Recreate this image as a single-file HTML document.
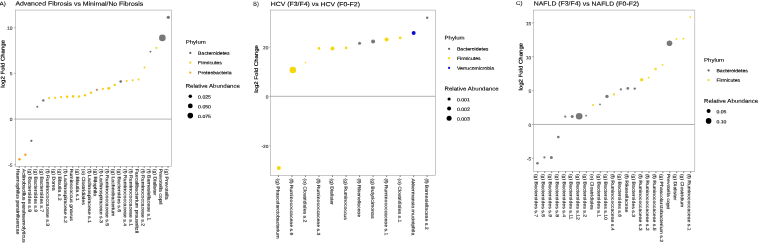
<!DOCTYPE html>
<html lang="en"><head><meta charset="utf-8"><title>Figure</title>
<style>html,body{margin:0;padding:0;background:#fff}svg{display:block}text{font-family:"Liberation Sans", Arial, sans-serif}</style>
</head><body>
<svg width="758" height="243" viewBox="0 0 758 243" font-family='"Liberation Sans", Arial, sans-serif'>
<rect width="758" height="243" fill="#fff"/>
<text transform="translate(-0.40,5.50) rotate(0.03) scale(1.15,1)" font-size="5.478" fill="#000" stroke="#000" stroke-width="0.08">A)</text>
<text transform="translate(15.40,5.60) rotate(0.03) scale(1.15,1)" font-size="6.000" fill="#000" stroke="#000" stroke-width="0.1">Advanced Fibrosis vs Minimal/No Fibrosis</text>
<line x1="15.6" x2="171.6" y1="119.05" y2="119.05" stroke="#c6c6c6" stroke-width="1.3"/>
<rect x="15.6" y="10.1" width="156.00" height="156.20" fill="none" stroke="#a4a4a4" stroke-width="0.6"/>
<line x1="14.0" x2="15.6" y1="27.75" y2="27.75" stroke="#707070" stroke-width="0.5"/>
<text transform="translate(12.50,29.69) rotate(0.03) scale(1.04,1)" font-size="4.712" fill="#333333" stroke="#333333" stroke-width="0.1" text-anchor="end">10</text>
<line x1="14.0" x2="15.6" y1="73.40" y2="73.40" stroke="#707070" stroke-width="0.5"/>
<text transform="translate(12.50,75.34) rotate(0.03) scale(1.04,1)" font-size="4.712" fill="#333333" stroke="#333333" stroke-width="0.1" text-anchor="end">5</text>
<line x1="14.0" x2="15.6" y1="119.05" y2="119.05" stroke="#707070" stroke-width="0.5"/>
<text transform="translate(12.50,120.99) rotate(0.03) scale(1.04,1)" font-size="4.712" fill="#333333" stroke="#333333" stroke-width="0.1" text-anchor="end">0</text>
<line x1="14.0" x2="15.6" y1="164.70" y2="164.70" stroke="#707070" stroke-width="0.5"/>
<text transform="translate(12.50,166.64) rotate(0.03) scale(1.04,1)" font-size="4.712" fill="#333333" stroke="#333333" stroke-width="0.1" text-anchor="end">-5</text>
<text transform="translate(4.60,63.80) rotate(-89.97) scale(1.15,1)" font-size="5.261" fill="#000" stroke="#000" stroke-width="0.14" text-anchor="middle">log2 Fold Change</text>
<line x1="19.17" x2="19.17" y1="166.3" y2="167.9" stroke="#6a6a6a" stroke-width="0.85"/>
<text transform="translate(16.47,168.70) rotate(90.03) scale(1.15,1)" font-size="4.522" fill="#2c2c2c" stroke="#2c2c2c" stroke-width="0.13">Haemophilus parainfluenzae</text>
<line x1="25.13" x2="25.13" y1="166.3" y2="167.9" stroke="#6a6a6a" stroke-width="0.85"/>
<text transform="translate(22.43,168.70) rotate(90.03) scale(1.15,1)" font-size="4.522" fill="#2c2c2c" stroke="#2c2c2c" stroke-width="0.13">Actinobacillus parahaemolyticus</text>
<line x1="31.08" x2="31.08" y1="166.3" y2="167.9" stroke="#6a6a6a" stroke-width="0.85"/>
<text transform="translate(28.38,168.70) rotate(90.03) scale(1.15,1)" font-size="4.522" fill="#2c2c2c" stroke="#2c2c2c" stroke-width="0.13">(g) Bacteroides s.8</text>
<line x1="37.04" x2="37.04" y1="166.3" y2="167.9" stroke="#6a6a6a" stroke-width="0.85"/>
<text transform="translate(34.34,168.70) rotate(90.03) scale(1.15,1)" font-size="4.522" fill="#2c2c2c" stroke="#2c2c2c" stroke-width="0.13">(g) Bacteroides s.9</text>
<line x1="42.99" x2="42.99" y1="166.3" y2="167.9" stroke="#6a6a6a" stroke-width="0.85"/>
<text transform="translate(40.29,168.70) rotate(90.03) scale(1.15,1)" font-size="4.522" fill="#2c2c2c" stroke="#2c2c2c" stroke-width="0.13">(g) Bacteroides s.7</text>
<line x1="48.94" x2="48.94" y1="166.3" y2="167.9" stroke="#6a6a6a" stroke-width="0.85"/>
<text transform="translate(46.24,168.70) rotate(90.03) scale(1.15,1)" font-size="4.522" fill="#2c2c2c" stroke="#2c2c2c" stroke-width="0.13">(f) Ruminococcaceae s.3</text>
<line x1="54.90" x2="54.90" y1="166.3" y2="167.9" stroke="#6a6a6a" stroke-width="0.85"/>
<text transform="translate(52.20,168.70) rotate(90.03) scale(1.15,1)" font-size="4.522" fill="#2c2c2c" stroke="#2c2c2c" stroke-width="0.13">(g) Dorea</text>
<line x1="60.85" x2="60.85" y1="166.3" y2="167.9" stroke="#6a6a6a" stroke-width="0.85"/>
<text transform="translate(58.15,168.70) rotate(90.03) scale(1.15,1)" font-size="4.522" fill="#2c2c2c" stroke="#2c2c2c" stroke-width="0.13">(g) Blautia s.2</text>
<line x1="66.81" x2="66.81" y1="166.3" y2="167.9" stroke="#6a6a6a" stroke-width="0.85"/>
<text transform="translate(64.11,168.70) rotate(90.03) scale(1.15,1)" font-size="4.522" fill="#2c2c2c" stroke="#2c2c2c" stroke-width="0.13">(f) Lachnospiraceae s.2</text>
<line x1="72.76" x2="72.76" y1="166.3" y2="167.9" stroke="#6a6a6a" stroke-width="0.85"/>
<text transform="translate(70.06,168.70) rotate(90.03) scale(1.15,1)" font-size="4.522" fill="#2c2c2c" stroke="#2c2c2c" stroke-width="0.13">Ruminococcus gnavus</text>
<line x1="78.71" x2="78.71" y1="166.3" y2="167.9" stroke="#6a6a6a" stroke-width="0.85"/>
<text transform="translate(76.01,168.70) rotate(90.03) scale(1.15,1)" font-size="4.522" fill="#2c2c2c" stroke="#2c2c2c" stroke-width="0.13">(g) Blautia s.1</text>
<line x1="84.67" x2="84.67" y1="166.3" y2="167.9" stroke="#6a6a6a" stroke-width="0.85"/>
<text transform="translate(81.97,168.70) rotate(90.03) scale(1.15,1)" font-size="4.522" fill="#2c2c2c" stroke="#2c2c2c" stroke-width="0.13">(o) Clostridiales</text>
<line x1="90.62" x2="90.62" y1="166.3" y2="167.9" stroke="#6a6a6a" stroke-width="0.85"/>
<text transform="translate(87.92,168.70) rotate(90.03) scale(1.15,1)" font-size="4.522" fill="#2c2c2c" stroke="#2c2c2c" stroke-width="0.13">(f) Lachnospiraceae s.1</text>
<line x1="96.58" x2="96.58" y1="166.3" y2="167.9" stroke="#6a6a6a" stroke-width="0.85"/>
<text transform="translate(93.88,168.70) rotate(90.03) scale(1.15,1)" font-size="4.522" fill="#2c2c2c" stroke="#2c2c2c" stroke-width="0.13">(g) Bilophila</text>
<line x1="102.53" x2="102.53" y1="166.3" y2="167.9" stroke="#6a6a6a" stroke-width="0.85"/>
<text transform="translate(99.83,168.70) rotate(90.03) scale(1.15,1)" font-size="4.522" fill="#2c2c2c" stroke="#2c2c2c" stroke-width="0.13">(f) Lachnospiraceae s.3</text>
<line x1="108.49" x2="108.49" y1="166.3" y2="167.9" stroke="#6a6a6a" stroke-width="0.85"/>
<text transform="translate(105.79,168.70) rotate(90.03) scale(1.15,1)" font-size="4.522" fill="#2c2c2c" stroke="#2c2c2c" stroke-width="0.13">(f) Ruminococcaceae s.5</text>
<line x1="114.44" x2="114.44" y1="166.3" y2="167.9" stroke="#6a6a6a" stroke-width="0.85"/>
<text transform="translate(111.74,168.70) rotate(90.03) scale(1.15,1)" font-size="4.522" fill="#2c2c2c" stroke="#2c2c2c" stroke-width="0.13">(g) Lachnobacterium</text>
<line x1="120.39" x2="120.39" y1="166.3" y2="167.9" stroke="#6a6a6a" stroke-width="0.85"/>
<text transform="translate(117.69,168.70) rotate(90.03) scale(1.15,1)" font-size="4.522" fill="#2c2c2c" stroke="#2c2c2c" stroke-width="0.13">(g) Bacteroides s.6</text>
<line x1="126.35" x2="126.35" y1="166.3" y2="167.9" stroke="#6a6a6a" stroke-width="0.85"/>
<text transform="translate(123.65,168.70) rotate(90.03) scale(1.15,1)" font-size="4.522" fill="#2c2c2c" stroke="#2c2c2c" stroke-width="0.13">(f) Ruminococcaceae s.4</text>
<line x1="132.30" x2="132.30" y1="166.3" y2="167.9" stroke="#6a6a6a" stroke-width="0.85"/>
<text transform="translate(129.60,168.70) rotate(90.03) scale(1.15,1)" font-size="4.522" fill="#2c2c2c" stroke="#2c2c2c" stroke-width="0.13">(f) Ruminococcaceae s.1</text>
<line x1="138.26" x2="138.26" y1="166.3" y2="167.9" stroke="#6a6a6a" stroke-width="0.85"/>
<text transform="translate(135.56,168.70) rotate(90.03) scale(1.15,1)" font-size="4.522" fill="#2c2c2c" stroke="#2c2c2c" stroke-width="0.13">Faecalibacterium prausnitzii</text>
<line x1="144.21" x2="144.21" y1="166.3" y2="167.9" stroke="#6a6a6a" stroke-width="0.85"/>
<text transform="translate(141.51,168.70) rotate(90.03) scale(1.15,1)" font-size="4.522" fill="#2c2c2c" stroke="#2c2c2c" stroke-width="0.13">(f) Ruminococcaceae s.2</text>
<line x1="150.16" x2="150.16" y1="166.3" y2="167.9" stroke="#6a6a6a" stroke-width="0.85"/>
<text transform="translate(147.46,168.70) rotate(90.03) scale(1.15,1)" font-size="4.522" fill="#2c2c2c" stroke="#2c2c2c" stroke-width="0.13">(f) Barnesiellaceae s.1</text>
<line x1="156.12" x2="156.12" y1="166.3" y2="167.9" stroke="#6a6a6a" stroke-width="0.85"/>
<text transform="translate(153.42,168.70) rotate(90.03) scale(1.15,1)" font-size="4.522" fill="#2c2c2c" stroke="#2c2c2c" stroke-width="0.13">(g) Dialister</text>
<line x1="162.07" x2="162.07" y1="166.3" y2="167.9" stroke="#6a6a6a" stroke-width="0.85"/>
<text transform="translate(159.37,168.70) rotate(90.03) scale(1.15,1)" font-size="4.522" fill="#2c2c2c" stroke="#2c2c2c" stroke-width="0.13">Prevotella copri</text>
<line x1="168.03" x2="168.03" y1="166.3" y2="167.9" stroke="#6a6a6a" stroke-width="0.85"/>
<text transform="translate(165.33,168.70) rotate(90.03) scale(1.15,1)" font-size="4.522" fill="#2c2c2c" stroke="#2c2c2c" stroke-width="0.13">(g) Prevotella</text>
<circle cx="19.47" cy="159.3" r="1.3" fill="#F5A32A"/>
<circle cx="25.43" cy="154.8" r="1.2" fill="#F5A32A"/>
<circle cx="31.38" cy="140.8" r="1.15" fill="#6e6e6e"/>
<circle cx="37.34" cy="106.7" r="1.0" fill="#6e6e6e"/>
<circle cx="43.29" cy="100.4" r="1.2" fill="#6e6e6e"/>
<circle cx="49.24" cy="98.2" r="1.1" fill="#F4CF1C"/>
<circle cx="55.20" cy="97.8" r="1.1" fill="#F4CF1C"/>
<circle cx="61.15" cy="97.2" r="1.1" fill="#F4CF1C"/>
<circle cx="67.11" cy="96.7" r="1.3" fill="#F4CF1C"/>
<circle cx="73.06" cy="96.4" r="1.3" fill="#F4CF1C"/>
<circle cx="79.01" cy="96.4" r="1.2" fill="#F4CF1C"/>
<circle cx="84.97" cy="95.2" r="1.2" fill="#F4CF1C"/>
<circle cx="90.92" cy="92.7" r="1.3" fill="#F4CF1C"/>
<circle cx="96.88" cy="89.8" r="1.1" fill="#BE8858"/>
<circle cx="102.83" cy="88.9" r="1.1" fill="#F4CF1C"/>
<circle cx="108.79" cy="88.3" r="1.5" fill="#F4CF1C"/>
<circle cx="114.74" cy="84.9" r="1.2" fill="#F4CF1C"/>
<circle cx="120.69" cy="81.5" r="1.3" fill="#6e6e6e"/>
<circle cx="126.65" cy="81.0" r="1.0" fill="#F4CF1C"/>
<circle cx="132.60" cy="80.3" r="1.0" fill="#F4CF1C"/>
<circle cx="138.56" cy="79.6" r="1.0" fill="#F4CF1C"/>
<circle cx="144.51" cy="67.5" r="1.0" fill="#F4CF1C"/>
<circle cx="150.46" cy="51.7" r="0.9" fill="#6e6e6e"/>
<circle cx="156.42" cy="47.9" r="1.1" fill="#ECE436"/>
<circle cx="162.37" cy="37.9" r="3.3" fill="#787878"/>
<circle cx="168.33" cy="17.3" r="1.65" fill="#787878"/>
<text transform="translate(185.70,43.70) rotate(0.03) scale(1.15,1)" font-size="5.261" fill="#000" stroke="#000" stroke-width="0.09">Phylum</text>
<circle cx="190.29999999999998" cy="52.9" r="1.1" fill="#606068"/>
<text transform="translate(198.10,54.65) rotate(0.03) scale(1.15,1)" font-size="4.478" fill="#000" stroke="#000" stroke-width="0.12">Bacteroidetes</text>
<circle cx="190.29999999999998" cy="62.6" r="1.1" fill="#F4CF1C"/>
<text transform="translate(198.10,64.35) rotate(0.03) scale(1.15,1)" font-size="4.478" fill="#000" stroke="#000" stroke-width="0.12">Firmicutes</text>
<circle cx="190.29999999999998" cy="72.6" r="1.1" fill="#F5A32A"/>
<text transform="translate(198.10,74.35) rotate(0.03) scale(1.15,1)" font-size="4.478" fill="#000" stroke="#000" stroke-width="0.12">Proteobacteria</text>
<text transform="translate(185.70,87.80) rotate(0.03) scale(1.15,1)" font-size="5.304" fill="#000" stroke="#000" stroke-width="0.09">Relative Abundance</text>
<circle cx="190.29999999999998" cy="96.2" r="1.75" fill="#000"/>
<text transform="translate(198.10,98.50) rotate(0.03) scale(1.15,1)" font-size="4.478" fill="#000" stroke="#000" stroke-width="0.1">0.025</text>
<circle cx="190.29999999999998" cy="105.9" r="2.4" fill="#000"/>
<text transform="translate(198.10,108.20) rotate(0.03) scale(1.15,1)" font-size="4.478" fill="#000" stroke="#000" stroke-width="0.1">0.050</text>
<circle cx="190.29999999999998" cy="115.6" r="2.8" fill="#000"/>
<text transform="translate(198.10,117.90) rotate(0.03) scale(1.15,1)" font-size="4.478" fill="#000" stroke="#000" stroke-width="0.1">0.075</text>
<text transform="translate(253.30,6.10) rotate(0.03) scale(0.85,1)" font-size="6.353" fill="#000" stroke="#000" stroke-width="0.03">B)</text>
<text transform="translate(270.80,6.10) rotate(0.03) scale(1.15,1)" font-size="6.000" fill="#000" stroke="#000" stroke-width="0.1">HCV (F3/F4) vs HCV (F0-F2)</text>
<line x1="270.3" x2="435.3" y1="96.3" y2="96.3" stroke="#9c9c9c" stroke-width="0.8"/>
<rect x="270.3" y="10.1" width="165.00" height="165.30" fill="none" stroke="#a4a4a4" stroke-width="0.6"/>
<line x1="269.3" x2="270.3" y1="47.00" y2="47.00" stroke="#707070" stroke-width="0.5"/>
<text transform="translate(268.40,49.30) rotate(0.03) scale(1.04,1)" font-size="4.615" fill="#333333" stroke="#333333" stroke-width="0.1" text-anchor="end">20</text>
<line x1="269.3" x2="270.3" y1="96.30" y2="96.30" stroke="#707070" stroke-width="0.5"/>
<text transform="translate(268.40,98.60) rotate(0.03) scale(1.04,1)" font-size="4.615" fill="#333333" stroke="#333333" stroke-width="0.1" text-anchor="end">0</text>
<line x1="269.3" x2="270.3" y1="145.60" y2="145.60" stroke="#707070" stroke-width="0.5"/>
<text transform="translate(268.40,147.90) rotate(0.03) scale(1.04,1)" font-size="4.615" fill="#333333" stroke="#333333" stroke-width="0.1" text-anchor="end">-20</text>
<text transform="translate(257.90,68.90) rotate(-89.97) scale(1.15,1)" font-size="5.261" fill="#000" stroke="#000" stroke-width="0.14" text-anchor="middle">log2 Fold Change</text>
<line x1="278.41" x2="278.41" y1="175.4" y2="177.0" stroke="#6a6a6a" stroke-width="0.85"/>
<text transform="translate(276.51,178.50) rotate(90.03) scale(1.15,1)" font-size="4.478" fill="#2c2c2c" stroke="#2c2c2c" stroke-width="0.13">(g) Phascolarctobacterium</text>
<line x1="291.94" x2="291.94" y1="175.4" y2="177.0" stroke="#6a6a6a" stroke-width="0.85"/>
<text transform="translate(290.04,178.50) rotate(90.03) scale(1.15,1)" font-size="4.478" fill="#2c2c2c" stroke="#2c2c2c" stroke-width="0.13">(f) Ruminococcaceae s.6</text>
<line x1="305.46" x2="305.46" y1="175.4" y2="177.0" stroke="#6a6a6a" stroke-width="0.85"/>
<text transform="translate(303.56,178.50) rotate(90.03) scale(1.15,1)" font-size="4.478" fill="#2c2c2c" stroke="#2c2c2c" stroke-width="0.13">(o) Clostridiales s.2</text>
<line x1="318.99" x2="318.99" y1="175.4" y2="177.0" stroke="#6a6a6a" stroke-width="0.85"/>
<text transform="translate(317.09,178.50) rotate(90.03) scale(1.15,1)" font-size="4.478" fill="#2c2c2c" stroke="#2c2c2c" stroke-width="0.13">(f) Ruminococcaceae s.3</text>
<line x1="332.51" x2="332.51" y1="175.4" y2="177.0" stroke="#6a6a6a" stroke-width="0.85"/>
<text transform="translate(330.61,178.50) rotate(90.03) scale(1.15,1)" font-size="4.478" fill="#2c2c2c" stroke="#2c2c2c" stroke-width="0.13">(g) Dialister</text>
<line x1="346.04" x2="346.04" y1="175.4" y2="177.0" stroke="#6a6a6a" stroke-width="0.85"/>
<text transform="translate(344.14,178.50) rotate(90.03) scale(1.15,1)" font-size="4.478" fill="#2c2c2c" stroke="#2c2c2c" stroke-width="0.13">(g) Ruminococcus</text>
<line x1="359.56" x2="359.56" y1="175.4" y2="177.0" stroke="#6a6a6a" stroke-width="0.85"/>
<text transform="translate(357.66,178.50) rotate(90.03) scale(1.15,1)" font-size="4.478" fill="#2c2c2c" stroke="#2c2c2c" stroke-width="0.13">(f) Rikenellaceae</text>
<line x1="373.09" x2="373.09" y1="175.4" y2="177.0" stroke="#6a6a6a" stroke-width="0.85"/>
<text transform="translate(371.19,178.50) rotate(90.03) scale(1.15,1)" font-size="4.478" fill="#2c2c2c" stroke="#2c2c2c" stroke-width="0.13">(g) Butyricimonas</text>
<line x1="386.61" x2="386.61" y1="175.4" y2="177.0" stroke="#6a6a6a" stroke-width="0.85"/>
<text transform="translate(384.71,178.50) rotate(90.03) scale(1.15,1)" font-size="4.478" fill="#2c2c2c" stroke="#2c2c2c" stroke-width="0.13">(f) Ruminococcaceae s.1</text>
<line x1="400.14" x2="400.14" y1="175.4" y2="177.0" stroke="#6a6a6a" stroke-width="0.85"/>
<text transform="translate(398.24,178.50) rotate(90.03) scale(1.15,1)" font-size="4.478" fill="#2c2c2c" stroke="#2c2c2c" stroke-width="0.13">(o) Clostridiales s.1</text>
<line x1="413.66" x2="413.66" y1="175.4" y2="177.0" stroke="#6a6a6a" stroke-width="0.85"/>
<text transform="translate(411.76,178.50) rotate(90.03) scale(1.15,1)" font-size="4.478" fill="#2c2c2c" stroke="#2c2c2c" stroke-width="0.13">Akkermansia muciniphila</text>
<line x1="427.19" x2="427.19" y1="175.4" y2="177.0" stroke="#6a6a6a" stroke-width="0.85"/>
<text transform="translate(425.29,178.50) rotate(90.03) scale(1.15,1)" font-size="4.478" fill="#2c2c2c" stroke="#2c2c2c" stroke-width="0.13">(f) Barnesiellaceae s.2</text>
<circle cx="278.81" cy="167.9" r="2.0" fill="#F6D70E"/>
<circle cx="292.84" cy="70.0" r="3.25" fill="#F6D70E"/>
<circle cx="305.46" cy="62.8" r="0.8" fill="#F6D70E"/>
<circle cx="318.99" cy="48.4" r="1.3" fill="#F6D70E"/>
<circle cx="332.51" cy="48.4" r="2.0" fill="#F6D70E"/>
<circle cx="346.04" cy="47.9" r="1.3" fill="#F6D70E"/>
<circle cx="359.56" cy="43.2" r="1.5" fill="#787878"/>
<circle cx="373.09" cy="41.4" r="2.0" fill="#787878"/>
<circle cx="386.61" cy="39.4" r="2.0" fill="#F6D70E"/>
<circle cx="400.14" cy="37.9" r="1.3" fill="#F6D70E"/>
<circle cx="413.66" cy="32.9" r="2.0" fill="#0A0AD0"/>
<circle cx="427.19" cy="17.8" r="1.2" fill="#787878"/>
<text transform="translate(444.50,39.40) rotate(0.03) scale(1.15,1)" font-size="5.261" fill="#000" stroke="#000" stroke-width="0.09">Phylum</text>
<circle cx="449.1" cy="48.8" r="1.1" fill="#606068"/>
<text transform="translate(456.90,50.55) rotate(0.03) scale(1.15,1)" font-size="4.478" fill="#000" stroke="#000" stroke-width="0.12">Bacteroidetes</text>
<circle cx="449.1" cy="58.2" r="1.1" fill="#F6D70E"/>
<text transform="translate(456.90,59.95) rotate(0.03) scale(1.15,1)" font-size="4.478" fill="#000" stroke="#000" stroke-width="0.12">Firmicutes</text>
<circle cx="449.1" cy="67.9" r="1.1" fill="#0A0AD0"/>
<text transform="translate(456.90,69.65) rotate(0.03) scale(1.15,1)" font-size="4.478" fill="#000" stroke="#000" stroke-width="0.12">Verrucomicrobia</text>
<text transform="translate(444.50,90.40) rotate(0.03) scale(1.15,1)" font-size="5.304" fill="#000" stroke="#000" stroke-width="0.09">Relative Abundance</text>
<circle cx="449.1" cy="99" r="1.6" fill="#000"/>
<text transform="translate(456.90,101.30) rotate(0.03) scale(1.15,1)" font-size="4.478" fill="#000" stroke="#000" stroke-width="0.1">0.001</text>
<circle cx="449.1" cy="108.4" r="2.0" fill="#000"/>
<text transform="translate(456.90,110.70) rotate(0.03) scale(1.15,1)" font-size="4.478" fill="#000" stroke="#000" stroke-width="0.1">0.002</text>
<circle cx="449.1" cy="118.2" r="2.5" fill="#000"/>
<text transform="translate(456.90,120.50) rotate(0.03) scale(1.15,1)" font-size="4.478" fill="#000" stroke="#000" stroke-width="0.1">0.003</text>
<text transform="translate(515.90,5.10) rotate(0.03) scale(1.15,1)" font-size="5.478" fill="#000" stroke="#000" stroke-width="0.04">C)</text>
<text transform="translate(533.80,5.60) rotate(0.03) scale(1.15,1)" font-size="6.000" fill="#000" stroke="#000" stroke-width="0.1">NAFLD (F3/F4) vs NAFLD (F0-F2)</text>
<line x1="533.6" x2="694.8" y1="124.45" y2="124.45" stroke="#9c9c9c" stroke-width="0.8"/>
<rect x="533.6" y="10.1" width="161.20" height="161.30" fill="none" stroke="#a4a4a4" stroke-width="0.6"/>
<line x1="531.8000000000001" x2="533.6" y1="23.05" y2="23.05" stroke="#707070" stroke-width="0.5"/>
<text transform="translate(531.20,25.35) rotate(0.03) scale(1.04,1)" font-size="4.615" fill="#333333" stroke="#333333" stroke-width="0.1" text-anchor="end">15</text>
<line x1="531.8000000000001" x2="533.6" y1="56.85" y2="56.85" stroke="#707070" stroke-width="0.5"/>
<text transform="translate(531.20,59.15) rotate(0.03) scale(1.04,1)" font-size="4.615" fill="#333333" stroke="#333333" stroke-width="0.1" text-anchor="end">10</text>
<line x1="531.8000000000001" x2="533.6" y1="90.65" y2="90.65" stroke="#707070" stroke-width="0.5"/>
<text transform="translate(531.20,92.95) rotate(0.03) scale(1.04,1)" font-size="4.615" fill="#333333" stroke="#333333" stroke-width="0.1" text-anchor="end">5</text>
<line x1="531.8000000000001" x2="533.6" y1="124.45" y2="124.45" stroke="#707070" stroke-width="0.5"/>
<text transform="translate(531.20,126.75) rotate(0.03) scale(1.04,1)" font-size="4.615" fill="#333333" stroke="#333333" stroke-width="0.1" text-anchor="end">0</text>
<line x1="531.8000000000001" x2="533.6" y1="158.25" y2="158.25" stroke="#707070" stroke-width="0.5"/>
<text transform="translate(531.20,160.55) rotate(0.03) scale(1.04,1)" font-size="4.615" fill="#333333" stroke="#333333" stroke-width="0.1" text-anchor="end">-5</text>
<text transform="translate(522.40,66.70) rotate(-89.97) scale(1.15,1)" font-size="5.261" fill="#000" stroke="#000" stroke-width="0.14" text-anchor="middle">log2 Fold Change</text>
<line x1="537.77" x2="537.77" y1="171.4" y2="173.0" stroke="#6a6a6a" stroke-width="0.85"/>
<text transform="translate(534.87,173.90) rotate(90.03) scale(1.15,1)" font-size="4.478" fill="#2c2c2c" stroke="#2c2c2c" stroke-width="0.13">(g) Bacteroides s.7</text>
<line x1="544.72" x2="544.72" y1="171.4" y2="173.0" stroke="#6a6a6a" stroke-width="0.85"/>
<text transform="translate(541.82,173.90) rotate(90.03) scale(1.15,1)" font-size="4.478" fill="#2c2c2c" stroke="#2c2c2c" stroke-width="0.13">(g) Bacteroides s.5</text>
<line x1="551.67" x2="551.67" y1="171.4" y2="173.0" stroke="#6a6a6a" stroke-width="0.85"/>
<text transform="translate(548.77,173.90) rotate(90.03) scale(1.15,1)" font-size="4.478" fill="#2c2c2c" stroke="#2c2c2c" stroke-width="0.13">(g) Bacteroides s.9</text>
<line x1="558.61" x2="558.61" y1="171.4" y2="173.0" stroke="#6a6a6a" stroke-width="0.85"/>
<text transform="translate(555.71,173.90) rotate(90.03) scale(1.15,1)" font-size="4.478" fill="#2c2c2c" stroke="#2c2c2c" stroke-width="0.13">(g) Bacteroides s.8</text>
<line x1="565.56" x2="565.56" y1="171.4" y2="173.0" stroke="#6a6a6a" stroke-width="0.85"/>
<text transform="translate(562.66,173.90) rotate(90.03) scale(1.15,1)" font-size="4.478" fill="#2c2c2c" stroke="#2c2c2c" stroke-width="0.13">(g) Bacteroides s.4</text>
<line x1="572.51" x2="572.51" y1="171.4" y2="173.0" stroke="#6a6a6a" stroke-width="0.85"/>
<text transform="translate(569.61,173.90) rotate(90.03) scale(1.15,1)" font-size="4.478" fill="#2c2c2c" stroke="#2c2c2c" stroke-width="0.13">(g) Bacteroides s.11</text>
<line x1="579.46" x2="579.46" y1="171.4" y2="173.0" stroke="#6a6a6a" stroke-width="0.85"/>
<text transform="translate(576.56,173.90) rotate(90.03) scale(1.15,1)" font-size="4.478" fill="#2c2c2c" stroke="#2c2c2c" stroke-width="0.13">(g) Bacteroides s.12</text>
<line x1="586.41" x2="586.41" y1="171.4" y2="173.0" stroke="#6a6a6a" stroke-width="0.85"/>
<text transform="translate(583.51,173.90) rotate(90.03) scale(1.15,1)" font-size="4.478" fill="#2c2c2c" stroke="#2c2c2c" stroke-width="0.13">(g) Bacteroides s.2</text>
<line x1="593.36" x2="593.36" y1="171.4" y2="173.0" stroke="#6a6a6a" stroke-width="0.85"/>
<text transform="translate(590.46,173.90) rotate(90.03) scale(1.15,1)" font-size="4.478" fill="#2c2c2c" stroke="#2c2c2c" stroke-width="0.13">(o) Clostridiales</text>
<line x1="600.30" x2="600.30" y1="171.4" y2="173.0" stroke="#6a6a6a" stroke-width="0.85"/>
<text transform="translate(597.40,173.90) rotate(90.03) scale(1.15,1)" font-size="4.478" fill="#2c2c2c" stroke="#2c2c2c" stroke-width="0.13">(g) Bacteroides s.1</text>
<line x1="607.25" x2="607.25" y1="171.4" y2="173.0" stroke="#6a6a6a" stroke-width="0.85"/>
<text transform="translate(604.35,173.90) rotate(90.03) scale(1.15,1)" font-size="4.478" fill="#2c2c2c" stroke="#2c2c2c" stroke-width="0.13">(g) Bacteroides s.10</text>
<line x1="614.20" x2="614.20" y1="171.4" y2="173.0" stroke="#6a6a6a" stroke-width="0.85"/>
<text transform="translate(611.30,173.90) rotate(90.03) scale(1.15,1)" font-size="4.478" fill="#2c2c2c" stroke="#2c2c2c" stroke-width="0.13">(f) Ruminococcaceae s.4</text>
<line x1="621.15" x2="621.15" y1="171.4" y2="173.0" stroke="#6a6a6a" stroke-width="0.85"/>
<text transform="translate(618.25,173.90) rotate(90.03) scale(1.15,1)" font-size="4.478" fill="#2c2c2c" stroke="#2c2c2c" stroke-width="0.13">(g) Bacteroides s.6</text>
<line x1="628.10" x2="628.10" y1="171.4" y2="173.0" stroke="#6a6a6a" stroke-width="0.85"/>
<text transform="translate(625.20,173.90) rotate(90.03) scale(1.15,1)" font-size="4.478" fill="#2c2c2c" stroke="#2c2c2c" stroke-width="0.13">(f) Rikenellaceae</text>
<line x1="635.04" x2="635.04" y1="171.4" y2="173.0" stroke="#6a6a6a" stroke-width="0.85"/>
<text transform="translate(632.14,173.90) rotate(90.03) scale(1.15,1)" font-size="4.478" fill="#2c2c2c" stroke="#2c2c2c" stroke-width="0.13">(g) Bacteroides s.3</text>
<line x1="641.99" x2="641.99" y1="171.4" y2="173.0" stroke="#6a6a6a" stroke-width="0.85"/>
<text transform="translate(639.09,173.90) rotate(90.03) scale(1.15,1)" font-size="4.478" fill="#2c2c2c" stroke="#2c2c2c" stroke-width="0.13">(f) Ruminococcaceae s.3</text>
<line x1="648.94" x2="648.94" y1="171.4" y2="173.0" stroke="#6a6a6a" stroke-width="0.85"/>
<text transform="translate(646.04,173.90) rotate(90.03) scale(1.15,1)" font-size="4.478" fill="#2c2c2c" stroke="#2c2c2c" stroke-width="0.13">(f) Ruminococcaceae s.2</text>
<line x1="655.89" x2="655.89" y1="171.4" y2="173.0" stroke="#6a6a6a" stroke-width="0.85"/>
<text transform="translate(652.99,173.90) rotate(90.03) scale(1.15,1)" font-size="4.478" fill="#2c2c2c" stroke="#2c2c2c" stroke-width="0.13">(f) Ruminococcaceae s.5</text>
<line x1="662.84" x2="662.84" y1="171.4" y2="173.0" stroke="#6a6a6a" stroke-width="0.85"/>
<text transform="translate(659.94,173.90) rotate(90.03) scale(1.15,1)" font-size="4.478" fill="#2c2c2c" stroke="#2c2c2c" stroke-width="0.13">(g) Phascolarctobacterium s.2</text>
<line x1="669.79" x2="669.79" y1="171.4" y2="173.0" stroke="#6a6a6a" stroke-width="0.85"/>
<text transform="translate(666.89,173.90) rotate(90.03) scale(1.15,1)" font-size="4.478" fill="#2c2c2c" stroke="#2c2c2c" stroke-width="0.13">Prevotella copri</text>
<line x1="676.73" x2="676.73" y1="171.4" y2="173.0" stroke="#6a6a6a" stroke-width="0.85"/>
<text transform="translate(673.83,173.90) rotate(90.03) scale(1.15,1)" font-size="4.478" fill="#2c2c2c" stroke="#2c2c2c" stroke-width="0.13">(g) Dialister</text>
<line x1="683.68" x2="683.68" y1="171.4" y2="173.0" stroke="#6a6a6a" stroke-width="0.85"/>
<text transform="translate(680.78,173.90) rotate(90.03) scale(1.15,1)" font-size="4.478" fill="#2c2c2c" stroke="#2c2c2c" stroke-width="0.13">(g) Clostridium</text>
<line x1="690.63" x2="690.63" y1="171.4" y2="173.0" stroke="#6a6a6a" stroke-width="0.85"/>
<text transform="translate(687.73,173.90) rotate(90.03) scale(1.15,1)" font-size="4.478" fill="#2c2c2c" stroke="#2c2c2c" stroke-width="0.13">(f) Ruminococcaceae s.1</text>
<circle cx="537.47" cy="163.2" r="1.32" fill="#787878"/>
<circle cx="544.42" cy="157.4" r="1.12" fill="#787878"/>
<circle cx="551.37" cy="157.4" r="1.5" fill="#787878"/>
<circle cx="558.31" cy="137.1" r="1.32" fill="#787878"/>
<circle cx="565.26" cy="116.6" r="1.12" fill="#787878"/>
<circle cx="572.21" cy="116.5" r="1.5" fill="#787878"/>
<circle cx="579.16" cy="116.2" r="3.3" fill="#787878"/>
<circle cx="586.11" cy="115.7" r="0.92" fill="#787878"/>
<circle cx="593.06" cy="104.9" r="1.02" fill="#EEDA1E"/>
<circle cx="600.00" cy="104.4" r="0.92" fill="#787878"/>
<circle cx="606.95" cy="96.4" r="1.7" fill="#787878"/>
<circle cx="613.90" cy="94.4" r="1.12" fill="#EEDA1E"/>
<circle cx="620.85" cy="89.4" r="1.12" fill="#787878"/>
<circle cx="627.80" cy="88.4" r="1.32" fill="#787878"/>
<circle cx="634.74" cy="88.6" r="1.22" fill="#787878"/>
<circle cx="641.69" cy="79.8" r="1.7" fill="#EEDA1E"/>
<circle cx="648.64" cy="77.6" r="0.92" fill="#EEDA1E"/>
<circle cx="655.59" cy="69.0" r="1.22" fill="#EEDA1E"/>
<circle cx="662.54" cy="64.8" r="0.92" fill="#EEDA1E"/>
<circle cx="669.49" cy="43.2" r="2.8" fill="#787878"/>
<circle cx="676.43" cy="38.9" r="0.92" fill="#EEDA1E"/>
<circle cx="683.38" cy="38.7" r="0.92" fill="#EEDA1E"/>
<circle cx="690.33" cy="17.1" r="0.92" fill="#EEDA1E"/>
<text transform="translate(704.00,61.80) rotate(0.03) scale(1.15,1)" font-size="5.261" fill="#000" stroke="#000" stroke-width="0.09">Phylum</text>
<circle cx="708.6" cy="70.4" r="1.1" fill="#606068"/>
<text transform="translate(716.40,72.15) rotate(0.03) scale(1.15,1)" font-size="4.478" fill="#000" stroke="#000" stroke-width="0.12">Bacteroidetes</text>
<circle cx="708.6" cy="80.1" r="1.1" fill="#EEDA1E"/>
<text transform="translate(716.40,81.85) rotate(0.03) scale(1.15,1)" font-size="4.478" fill="#000" stroke="#000" stroke-width="0.12">Firmicutes</text>
<text transform="translate(704.00,102.80) rotate(0.03) scale(1.15,1)" font-size="5.304" fill="#000" stroke="#000" stroke-width="0.09">Relative Abundance</text>
<circle cx="708.6" cy="111" r="2.0" fill="#000"/>
<text transform="translate(716.40,113.30) rotate(0.03) scale(1.15,1)" font-size="4.478" fill="#000" stroke="#000" stroke-width="0.1">0.05</text>
<circle cx="708.6" cy="120.9" r="2.8" fill="#000"/>
<text transform="translate(716.40,123.20) rotate(0.03) scale(1.15,1)" font-size="4.478" fill="#000" stroke="#000" stroke-width="0.1">0.10</text>
</svg>
</body></html>
